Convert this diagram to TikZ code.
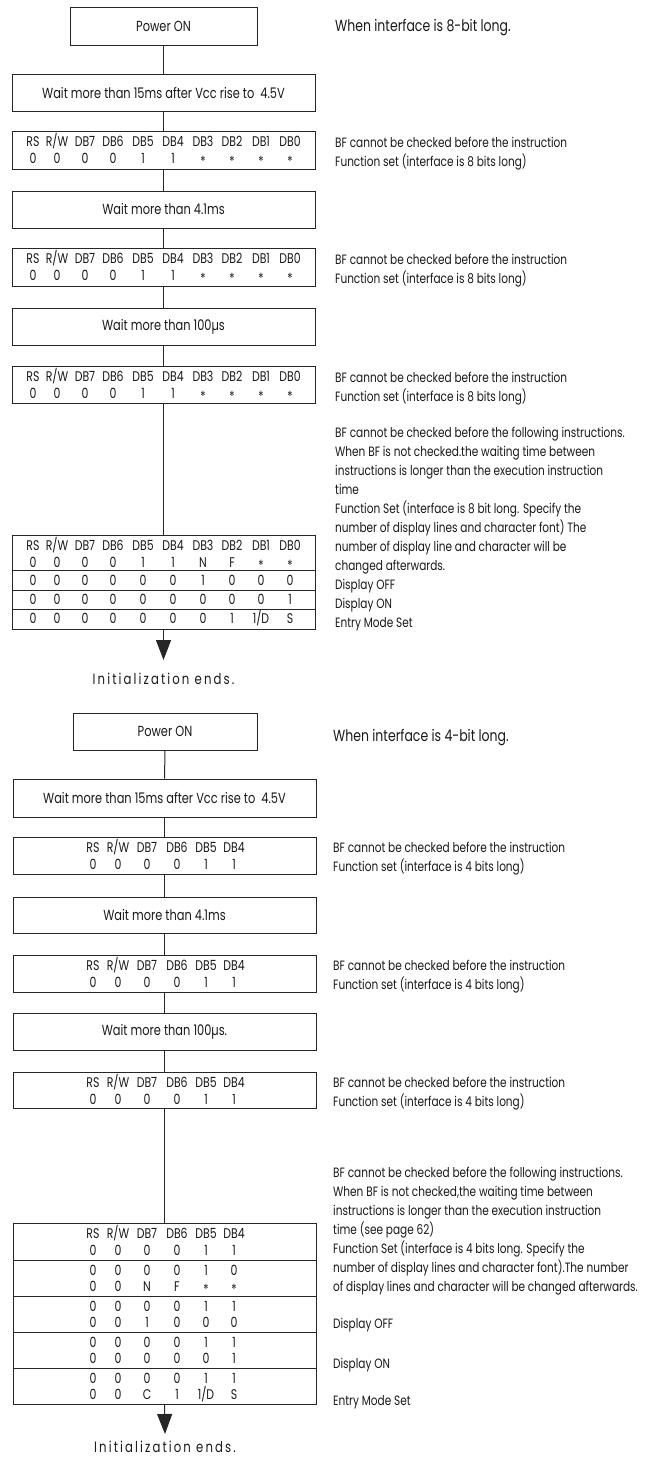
\documentclass[tikz,border=0pt]{standalone}
\usepackage{fontspec}
\setmainfont{Poppins}[FakeStretch=0.78]
\usetikzlibrary{arrows.meta}
\newcommand\boxfont{\fontsize{14.6}{16}\selectfont}
\newcommand\rtfont{\fontsize{13.5}{15}\selectfont}
\newcommand\headfont{\fontsize{16}{18}\selectfont}
\newcommand\tabfont{\fontsize{14}{16}\selectfont}
\newcommand\finfont{\fontsize{15}{17}\selectfont\addfontfeature{LetterSpace=14}}
\newcommand\stx{\raisebox{-3.5pt}{*}}
\def\xa{{33,57,85,113,143,173,203,232,261,290}}
\def\xb{{93,118,147,177,206,234}}
\newcommand\putrow[4]{%
  \foreach \v [count=\i] in {#4} {%
    \pgfmathsetmacro\xx{#2[\i-1]}%
    \node[cell] (#1-\i) at (\xx,#3) {\v};
  }}
\newcommand\putlines[4]{%
  \foreach \t [count=\i] in {#4} {%
    \node[rt] (#1-\i) at (#2,{#3+19*(\i-1)}) {\t};
  }}
\begin{document}
\begin{tikzpicture}[x=1pt,y=-1pt,
  box/.style={draw=black!85, line width=1, inner sep=0, font=\boxfont, text=black!90},
  tbl/.style={draw=black!85, line width=1, inner sep=0},
  cell/.style={inner sep=0, anchor=base, font=\tabfont, text=black!90},
  rt/.style={inner sep=0, anchor=base west, font=\rtfont, text=black!90},
  conn/.style={draw=black!85, line width=1},
  arr/.style={conn, -{Triangle[length=20,width=15]}},
  sep/.style={draw=black!85, line width=1}]
\useasboundingbox (0,0) rectangle (645,1459);

%% ---------------- 8-bit ----------------
\node[box, minimum width=187, minimum height=38] (p1) at (163.5,26) {Power ON};
\node[rt, font=\headfont] (h1) at (335,31) {When interface is 8-bit long.};
\node[box, minimum width=303, minimum height=37] (w1) at (163.5,92.5) {Wait more than 15ms after Vcc rise to~ 4.5V};
\node[tbl, minimum width=303, minimum height=38] (t1) at (163.5,150) {};
\node[box, minimum width=303, minimum height=37] (w2) at (163.5,209.5) {Wait more than 4.1ms};
\node[tbl, minimum width=303, minimum height=38] (t2) at (163.5,267) {};
\node[box, minimum width=303, minimum height=37] (w3) at (163.5,326.5) {Wait more than 100µs};
\node[tbl, minimum width=303, minimum height=37] (t3) at (163.5,384.5) {};
\node[tbl, minimum width=303, minimum height=94] (b1) at (163.5,582) {};
\coordinate (a1) at (163.5,660);
\node[inner sep=0, anchor=base, font=\finfont, text=black!90] (e1) at (163.5,684) {Initialization ends.};

\draw[conn] (p1) -- (w1);
\draw[conn] (w1) -- (t1);
\draw[conn] (t1) -- (w2);
\draw[conn] (w2) -- (t2);
\draw[conn] (t2) -- (w3);
\draw[conn] (w3) -- (t3);
\draw[conn] (t3) -- (b1);
\draw[arr] (b1.south) -- (a1);

\foreach \n/\y in {t1/131,t2/248,t3/366} {
  \putrow{\n h}{\xa}{\y+15}{RS,R/W,DB7,DB6,DB5,DB4,DB3,DB2,DB1,DB0}
  \putrow{\n d}{\xa}{\y+32}{0,0,0,0,1,1,\stx,\stx,\stx,\stx}
}
\putrow{b1h}{\xa}{550}{RS,R/W,DB7,DB6,DB5,DB4,DB3,DB2,DB1,DB0}
\putrow{b1a}{\xa}{567}{0,0,0,0,1,1,N,F,\stx,\stx}
\putrow{b1b}{\xa}{585}{0,0,0,0,0,0,1,0,0,0}
\putrow{b1c}{\xa}{604}{0,0,0,0,0,0,0,0,0,1}
\putrow{b1d}{\xa}{623}{0,0,0,0,0,0,0,1,1/D,S}
\foreach \y in {570,590,609} \draw[sep] (b1.west |- 0,\y) -- (b1.east |- 0,\y);

\putlines{r1}{335}{147}{BF cannot be checked before the instruction,Function set (interface is 8 bits long)}
\putlines{r2}{335}{264}{BF cannot be checked before the instruction,Function set (interface is 8 bits long)}
\putlines{r3}{335}{382}{BF cannot be checked before the instruction,Function set (interface is 8 bits long)}
\putlines{r4}{335}{437}{BF cannot be checked before the following instructions.,When BF is not checked.the waiting time between,instructions is longer than the execution instruction,time,Function Set (interface is 8 bit long. Specify the,number of display lines and character font) The,number of display line and character will be,changed afterwards.,Display OFF,Display ON,Entry Mode Set}

%% ---------------- 4-bit ----------------
\node[box, minimum width=184, minimum height=37] (p2) at (165,731.5) {Power ON};
\node[rt, font=\headfont] (h2) at (333,741) {When interface is 4-bit long.};
\node[box, minimum width=303, minimum height=38] (w4) at (164.5,798) {Wait more than 15ms after Vcc rise to~ 4.5V};
\node[tbl, minimum width=303, minimum height=37] (t4) at (164.5,855.5) {};
\node[box, minimum width=303, minimum height=36] (w5) at (164.5,915) {Wait more than 4.1ms};
\node[tbl, minimum width=303, minimum height=37] (t5) at (164.5,973.5) {};
\node[box, minimum width=303, minimum height=37] (w6) at (164.5,1031.5) {Wait more than 100µs.};
\node[tbl, minimum width=303, minimum height=36] (t6) at (164.5,1090) {};
\node[tbl, minimum width=303, minimum height=181] (b2) at (164.5,1313.5) {};
\coordinate (a2) at (165,1434);
\node[inner sep=0, anchor=base, font=\finfont, text=black!90] (e2) at (165,1452) {Initialization ends.};

\draw[conn] (p2) -- (w4);
\draw[conn] (w4) -- (t4);
\draw[conn] (t4) -- (w5);
\draw[conn] (w5) -- (t5);
\draw[conn] (t5) -- (w6);
\draw[conn] (w6) -- (t6);
\draw[conn] (t6) -- (b2);
\draw[arr] (b2.south) -- (a2);

\foreach \n/\y in {t4/837,t5/955,t6/1072} {
  \putrow{\n h}{\xb}{\y+15}{RS,R/W,DB7,DB6,DB5,DB4}
  \putrow{\n d}{\xb}{\y+32}{0,0,0,0,1,1}
}
\putrow{b2h}{\xb}{1238}{RS,R/W,DB7,DB6,DB5,DB4}
\putrow{b2a}{\xb}{1255}{0,0,0,0,1,1}
\putrow{b2b}{\xb}{1275}{0,0,0,0,1,0}
\putrow{b2c}{\xb}{1291}{0,0,N,F,\stx,\stx}
\putrow{b2d}{\xb}{1311}{0,0,0,0,1,1}
\putrow{b2e}{\xb}{1327}{0,0,1,0,0,0}
\putrow{b2f}{\xb}{1347}{0,0,0,0,1,1}
\putrow{b2g}{\xb}{1363}{0,0,0,0,0,1}
\putrow{b2i}{\xb}{1383}{0,0,0,0,1,1}
\putrow{b2j}{\xb}{1399}{0,0,C,1,1/D,S}
\foreach \y in {1260,1296,1332,1368} \draw[sep] (b2.west |- 0,\y) -- (b2.east |- 0,\y);

\putlines{r5}{333}{852}{BF cannot be checked before the instruction,Function set (interface is 4 bits long)}
\putlines{r6}{333}{970}{BF cannot be checked before the instruction,Function set (interface is 4 bits long)}
\putlines{r7}{333}{1087}{BF cannot be checked before the instruction,Function set (interface is 4 bits long)}
\putlines{r8}{333}{1177}{BF cannot be checked before the following instructions.,{When BF is not checked,the waiting time between},instructions is longer than the execution instruction,time (see page 62),Function Set (interface is 4 bits long. Specify the,number of display lines and character font).The number,of display lines and character will be changed afterwards.}
\node[rt] (r9) at (333,1328) {Display OFF};
\node[rt] (r10) at (333,1368) {Display ON};
\node[rt] (r11) at (333,1405) {Entry Mode Set};
\end{tikzpicture}
\end{document}
